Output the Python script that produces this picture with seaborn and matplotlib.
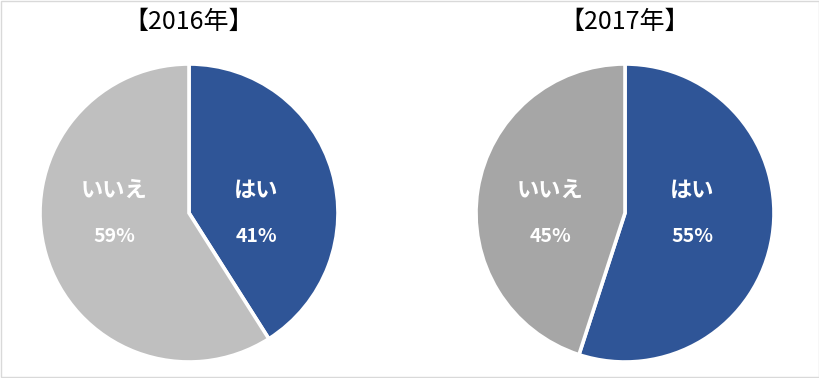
import matplotlib
matplotlib.use('Agg')
import matplotlib.pyplot as plt
import seaborn as sns

years = ['2016年', '2017年']
labels = ['はい', 'いいえ']
values_2016 = [41, 59]
values_2017 = [55, 45]
blue = '#2F5597'
grays = ['#BFBFBF', '#A6A6A6']

sns.set_theme(style='white')
plt.rcParams['font.family'] = ['Noto Sans CJK JP', 'DejaVu Sans']

W, H = 820, 378
fig = plt.figure(figsize=(W / 100, H / 100), dpi=100)
fig.patch.set_facecolor('white')
fig.patches.append(plt.Rectangle((0.001, 0.002), 0.998, 0.995, transform=fig.transFigure,
                                 fill=False, edgecolor='#D9D9D9', linewidth=1))

centers = [189, 625]
radius = 149
cy = 213

for i, (year, vals) in enumerate(zip(years, [values_2016, values_2017])):
    cx = centers[i]
    ax = fig.add_axes([(cx - radius) / W, (H - cy - radius) / H, 2 * radius / W, 2 * radius / H])
    colors = [blue, grays[i]]
    ax.pie(vals, colors=colors, startangle=90, counterclock=False, radius=1,
           wedgeprops=dict(edgecolor='white', linewidth=2.6))
    ax.set_xlim(-1.0, 1.0)
    ax.set_ylim(-1.0, 1.0)
    ax.set_aspect('equal')
    ax.axis('off')
    # labels
    for j, (lab, v) in enumerate(zip(labels, vals)):
        x = 0.45 if j == 0 else -0.5
        ax.text(x, 0.15, lab, color='white', fontsize=16, fontweight='bold',
                ha='center', va='center')
        ax.text(x, -0.16, f'{v}%', color='white', fontsize=14, fontweight='bold',
                ha='center', va='center')
    fig.text(cx / W, 1 - 22 / H, f'【{year}】', fontsize=18, ha='center', va='center',
             color='black')

fig.savefig('out.png', dpi=100)
